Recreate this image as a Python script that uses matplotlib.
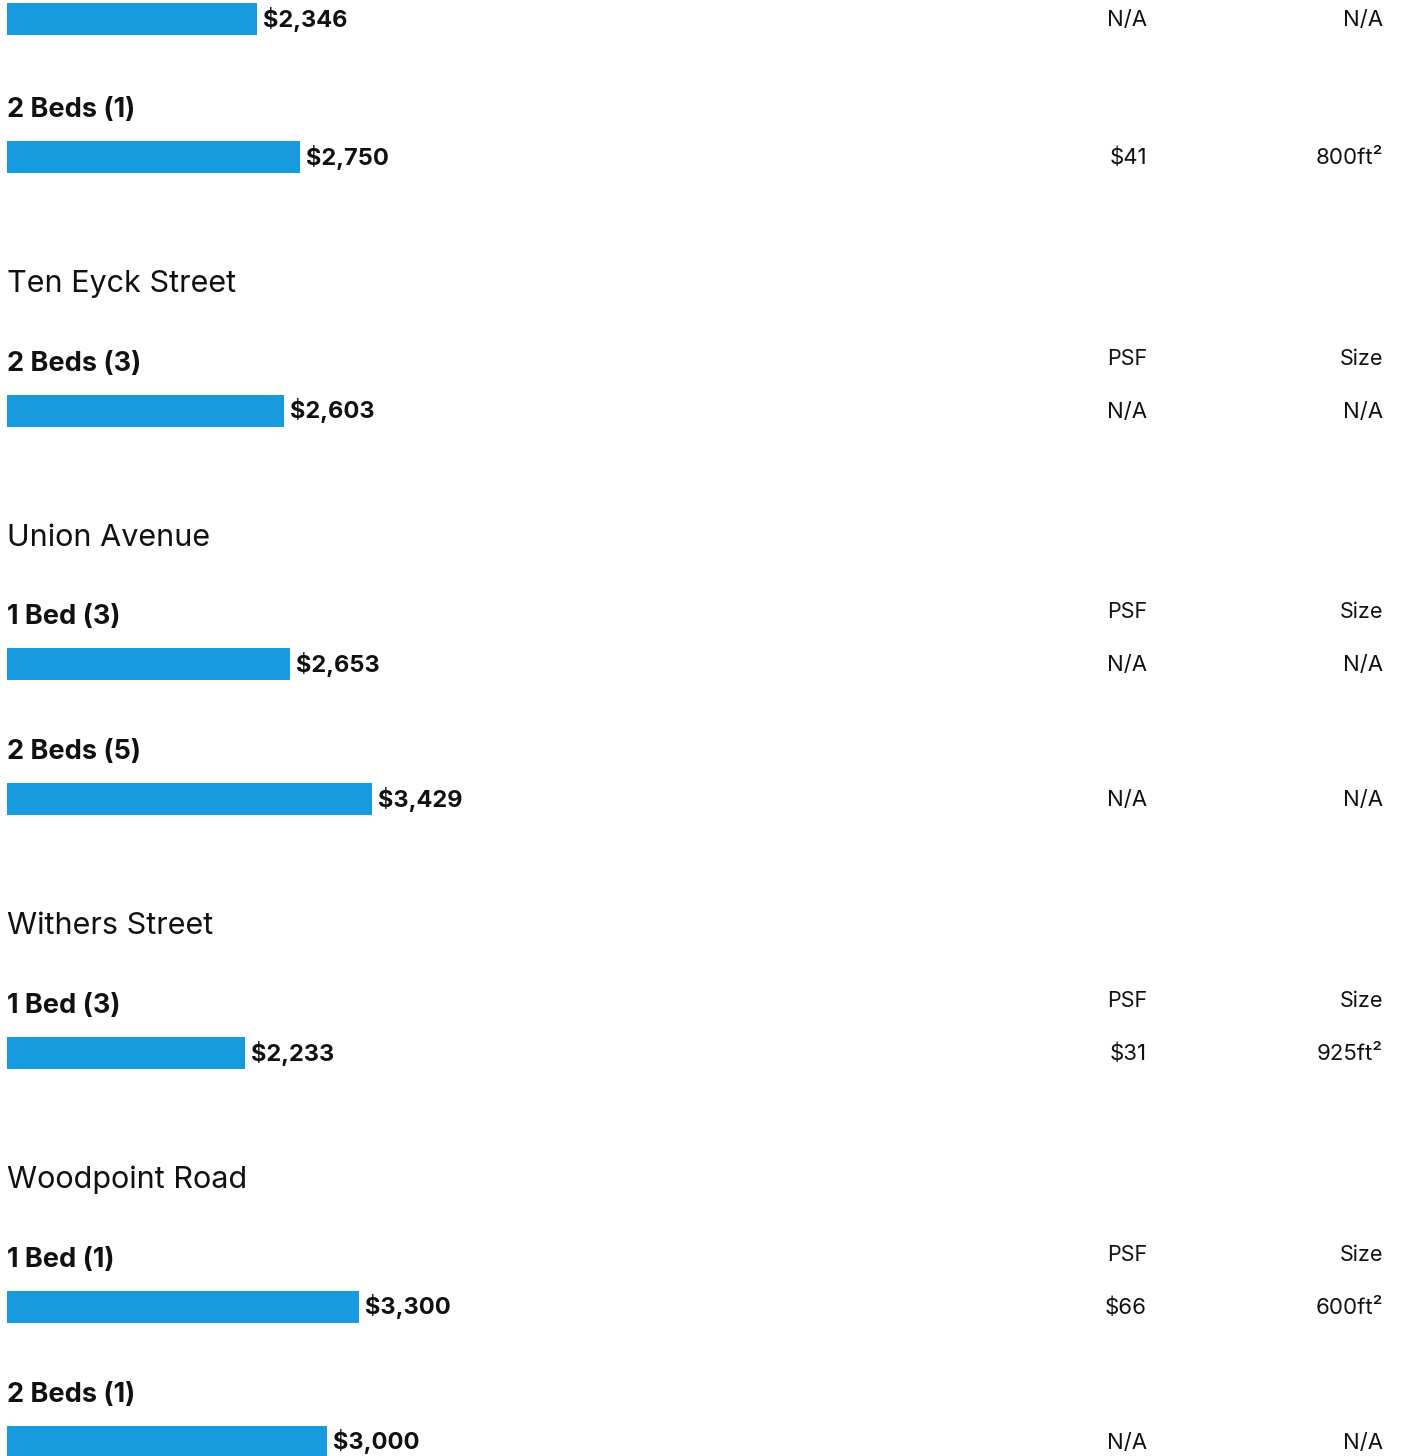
import matplotlib
matplotlib.use("Agg")
import matplotlib.pyplot as plt
import matplotlib.transforms as mtransforms

# Rental listings by street: unit type label, median rent, price per sq ft, size
streets = [None, "Ten Eyck Street", "Union Avenue", "Withers Street", "Woodpoint Road"]
unit_labels = [
    [None, "2 Beds (1)"],
    ["2 Beds (3)"],
    ["1 Bed (3)", "2 Beds (5)"],
    ["1 Bed (3)"],
    ["1 Bed (1)", "2 Beds (1)"],
]
rents = [
    [2346, 2750],
    [2603],
    [2653, 3429],
    [2233],
    [3300, 3000],
]
psf = [
    ["N/A", "$41"],
    ["N/A"],
    ["N/A", "N/A"],
    ["$31"],
    ["$66", "N/A"],
]
sizes = [
    ["N/A", "800ft²"],
    ["N/A"],
    ["N/A", "N/A"],
    ["925ft²"],
    ["600ft²", "N/A"],
]

W, H = 1402, 1456
DPI = 100
BAR_COLOR = "#179ADE"
TEXT = "#111111"
FONT = ["Inter", "DejaVu Sans"]

fig = plt.figure(figsize=(W / DPI, H / DPI), dpi=DPI)
ax = fig.add_axes([0, 0, 1, 1])
px_per_dollar = 293 / 2750.0
left_px = 7
ax.set_xlim(-left_px / px_per_dollar, (W - left_px) / px_per_dollar)
ax.set_ylim(H, 0)
ax.axis("off")

# x in figure fraction, y in layout pixels from the top
tr = mtransforms.blended_transform_factory(fig.transFigure, ax.transData)

PSF_RIGHT = 1147 / W
SIZE_RIGHT = 1383 / W
LABEL_X = left_px / W

BAR_H = 32
ROW_GAP = 135         # bar centre to next bar centre within a street
TITLE_GAP = 135       # bar centre to next street title baseline
TITLE_TO_LABEL = 78.7 # street title baseline to unit label baseline
LABEL_TO_BAR = 40     # unit label baseline to bar centre

y = 19  # centre of the first bar
prev_bar = None
for s, street in enumerate(streets):
    if street is not None:
        y = prev_bar + TITLE_GAP
        ax.text(LABEL_X, y, street, transform=tr, ha="left", va="baseline",
                fontsize=22, color=TEXT, family=FONT)
        label_y = y + TITLE_TO_LABEL
    for u, label in enumerate(unit_labels[s]):
        if label is not None:
            if u > 0:
                label_y = prev_bar + ROW_GAP - LABEL_TO_BAR + (3 if s == 0 else 0)
            ax.text(LABEL_X, label_y, label, transform=tr, ha="left", va="baseline",
                    fontsize=19.5, fontweight="bold", color=TEXT, family=FONT)
            if u == 0:
                ax.text(PSF_RIGHT, label_y - 6, "PSF", transform=tr, ha="right",
                        va="baseline", fontsize=15.5, color=TEXT, family=FONT)
                ax.text(SIZE_RIGHT, label_y - 6, "Size", transform=tr, ha="right",
                        va="baseline", fontsize=15.5, color=TEXT, family=FONT)
            y = label_y + LABEL_TO_BAR
        val = rents[s][u]
        ax.barh(y, val, height=BAR_H, left=0, color=BAR_COLOR, linewidth=0)
        ax.annotate(f"${val:,}", xy=(val, y), xytext=(6, 0), textcoords="offset pixels",
                    ha="left", va="center", fontsize=17, fontweight="bold",
                    color=TEXT, family=FONT)
        ax.text(PSF_RIGHT, y + 7, psf[s][u], transform=tr, ha="right", va="baseline",
                fontsize=16, color=TEXT, family=FONT)
        ax.text(SIZE_RIGHT, y + 7, sizes[s][u], transform=tr, ha="right", va="baseline",
                fontsize=16, color=TEXT, family=FONT)
        prev_bar = y

fig.savefig("out.png", dpi=DPI, facecolor="white")
